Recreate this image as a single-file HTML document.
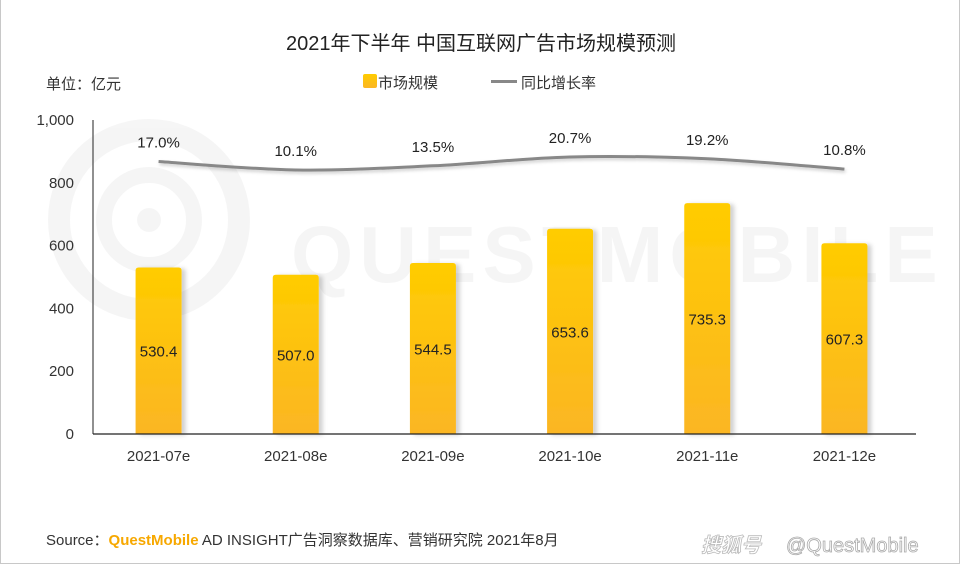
<!DOCTYPE html>
<html><head><meta charset="utf-8">
<style>
html,body{margin:0;padding:0;background:#fff;}
#wrap{position:relative;width:960px;height:564px;overflow:hidden;box-sizing:border-box;border-left:1px solid #c8c8c8;border-bottom:1px solid #c8c8c8;border-right:1px solid #c8c8c8;}
svg text{font-family:"Liberation Sans","Noto Sans CJK SC",sans-serif;}
</style></head>
<body>
<div id="wrap">
<svg id="chart" width="960" height="564" xmlns="http://www.w3.org/2000/svg">
<defs>
<linearGradient id="bg" x1="0" y1="0" x2="0" y2="1">
<stop offset="0" stop-color="#FFCC00"/><stop offset="1" stop-color="#FBB624"/>
</linearGradient>
<filter id="sh" x="-20%" y="-5%" width="150%" height="110%"><feDropShadow dx="4" dy="1" stdDeviation="2" flood-color="#000" flood-opacity="0.18"/></filter>
<filter id="lsh" x="-5%" y="-50%" width="110%" height="200%"><feDropShadow dx="1" dy="2" stdDeviation="1.5" flood-color="#000" flood-opacity="0.2"/></filter>
</defs>
<g opacity="0.035">
<circle cx="148" cy="220" r="90" fill="none" stroke="#000" stroke-width="22"/>
<circle cx="148" cy="220" r="45" fill="none" stroke="#000" stroke-width="16"/>
<circle cx="148" cy="220" r="12" fill="#000"/>
<text x="290" y="282" font-size="80" font-weight="bold" fill="#000" letter-spacing="6">QUESTMOBILE</text>
</g>
<text x="480" y="50" text-anchor="middle" font-size="20" fill="#222">2021年下半年 中国互联网广告市场规模预测</text>
<text x="45" y="89" font-size="15" fill="#333">单位：亿元</text>
<g>
<g><rect x="362" y="74" width="14" height="14" rx="2" fill="url(#bg)"/><text x="377" y="88" font-size="15" fill="#333">市场规模</text></g>
<g><rect x="490" y="80" width="26" height="3" fill="#888"/><text x="520" y="88" font-size="15" fill="#333">同比增长率</text></g>
</g>
<g id="yaxis"></g>
<g id="bars"></g>
<g id="line"></g>
<g id="xaxis"></g>
<text x="45" y="545" font-size="15" fill="#333">Source：<tspan fill="#F7A800" font-weight="bold">QuestMobile</tspan> AD INSIGHT广告洞察数据库、营销研究院 2021年8月</text>
<text x="700" y="552" font-size="20" font-style="italic" font-weight="bold" fill="#fff" stroke="#bbb" stroke-width="0.8">搜狐号</text>
<text x="785" y="552" font-size="20" fill="#fff" stroke="#aaa" stroke-width="0.8">@QuestMobile</text>
</svg>
</div>
<script>
const categories=["2021-07e","2021-08e","2021-09e","2021-10e","2021-11e","2021-12e"];
const marketSize=[530.4,507.0,544.5,653.6,735.3,607.3];
const growthRate=[17.0,10.1,13.5,20.7,19.2,10.8];
const yTicks=[0,200,400,600,800,1000];
const yTickLabels=["0","200","400","600","800","1,000"];
const NS="http://www.w3.org/2000/svg";
const x0=92,x1=915,yBase=434,yTop=120;
const band=(x1-x0)/categories.length;
function xc(i){return x0+band*(i+0.5)-3;}
function y(v){return yBase-(v/1000)*(yBase-yTop);}
function yr(r){return 182.4-1.23*r;}
function mk(tag,attrs,parent){const e=document.createElementNS(NS,tag);for(const k in attrs)e.setAttribute(k,attrs[k]);parent.appendChild(e);return e;}
const ya=document.getElementById('yaxis'),ba=document.getElementById('bars'),la=document.getElementById('line'),xa=document.getElementById('xaxis');
mk('line',{x1:x0,y1:yTop,x2:x0,y2:yBase,stroke:'#222','stroke-width':1},ya);
yTicks.forEach((t,i)=>{const tx=mk('text',{x:73,y:y(t)+5,'text-anchor':'end','font-size':15,fill:'#333'},ya);tx.textContent=yTickLabels[i];

});
const bw=46;
marketSize.forEach((v,i)=>{const cx=xc(i),top=y(v);
const r=mk('path',{d:`M${cx-bw/2},${yBase} V${top+3} Q${cx-bw/2},${top} ${cx-bw/2+3},${top} H${cx+bw/2-3} Q${cx+bw/2},${top} ${cx+bw/2},${top+3} V${yBase} Z`,fill:'url(#bg)',filter:'url(#sh)'},ba);


const t=mk('text',{x:cx,y:(top+yBase)/2+6,'text-anchor':'middle','font-size':15,fill:'#222'},ba);t.textContent=v.toFixed(1);

});
mk('line',{x1:x0,y1:yBase,x2:x1,y2:yBase,stroke:'#222','stroke-width':1.2},xa);
categories.forEach((c,i)=>{const t=mk('text',{x:xc(i),y:461,'text-anchor':'middle','font-size':15,fill:'#333'},xa);t.textContent=c;

});
const pts=growthRate.map((r,i)=>[xc(i),yr(r)]);
let d=`M${pts[0][0]},${pts[0][1]}`;
for(let i=0;i<pts.length-1;i++){const p0=pts[i-1]||pts[i],p1=pts[i],p2=pts[i+1],p3=pts[i+2]||p2;
const c1=[p1[0]+(p2[0]-p0[0])/6,p1[1]+(p2[1]-p0[1])/6],c2=[p2[0]-(p3[0]-p1[0])/6,p2[1]-(p3[1]-p1[1])/6];
d+=` C${c1[0]},${c1[1]} ${c2[0]},${c2[1]} ${p2[0]},${p2[1]}`;}
const lp=mk('path',{d:d,fill:'none',stroke:'#888','stroke-width':3,filter:'url(#lsh)'},la);


growthRate.forEach((r,i)=>{const t=mk('text',{x:xc(i),y:yr(r)-14,'text-anchor':'middle','font-size':15,fill:'#222'},la);t.textContent=r.toFixed(1)+'%';

});
</script>
</body></html>
